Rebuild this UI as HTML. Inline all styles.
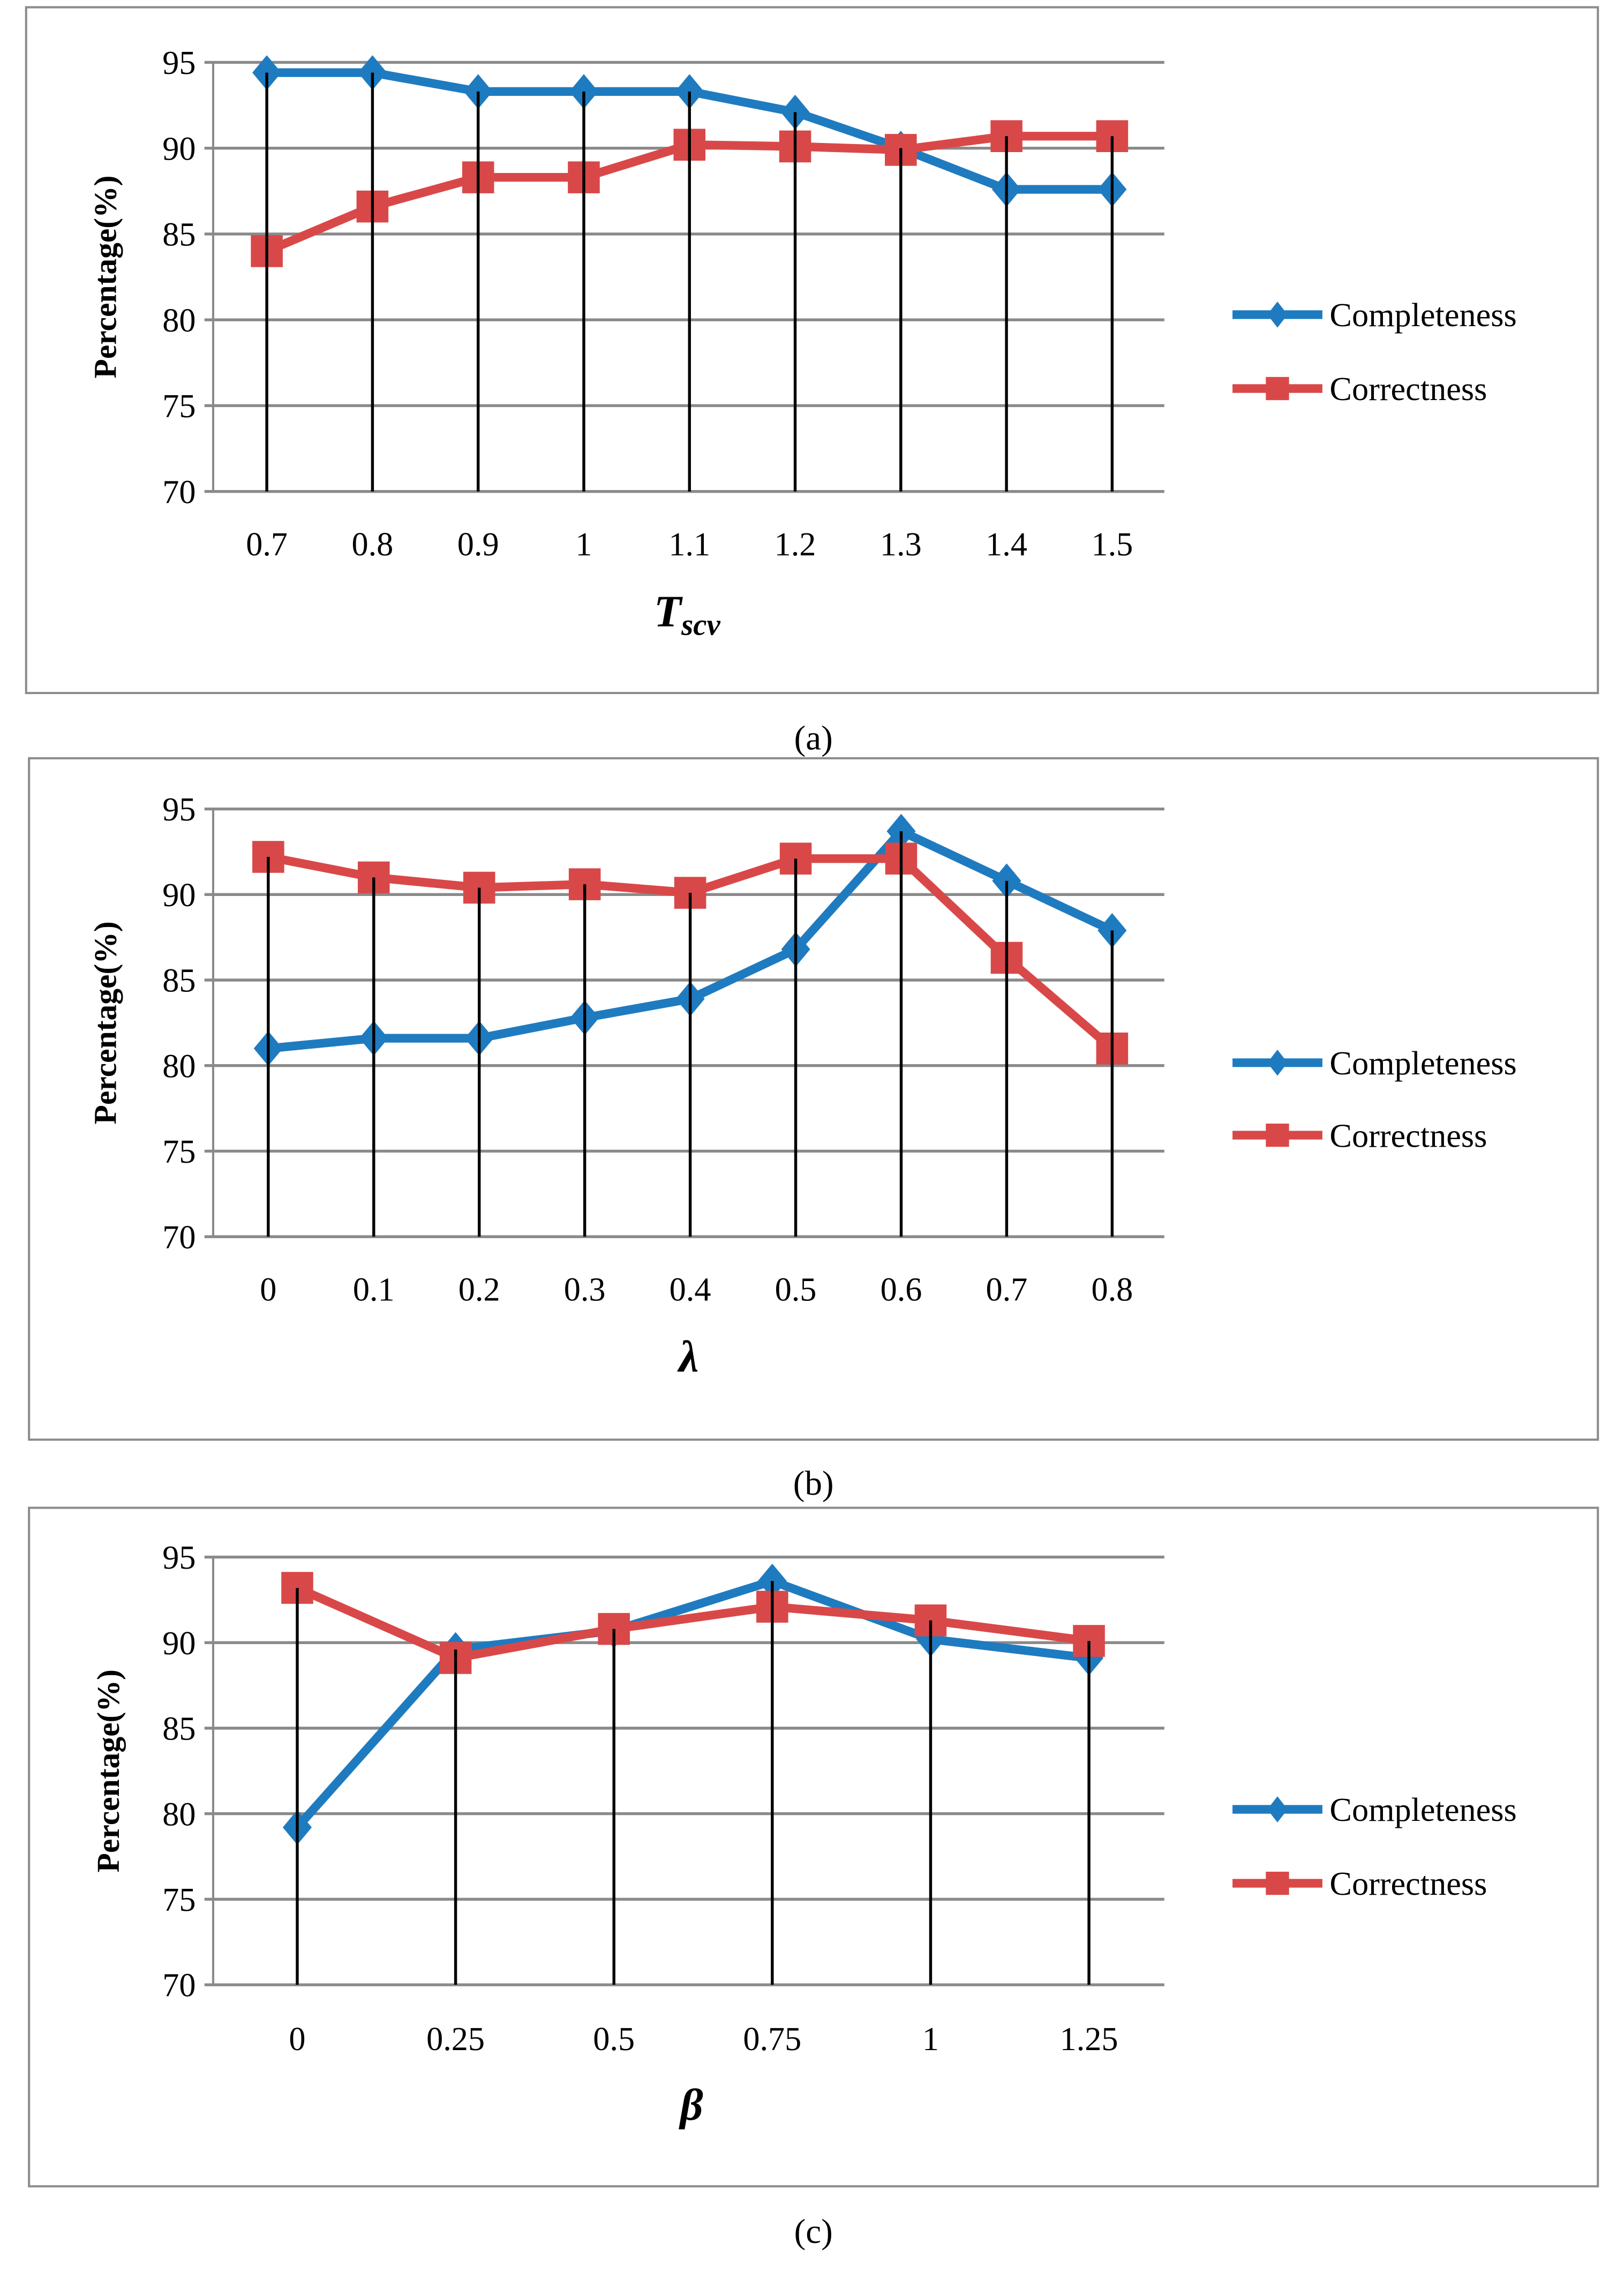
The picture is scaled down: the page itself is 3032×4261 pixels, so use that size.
<!DOCTYPE html>
<html><head><meta charset="utf-8"><style>
html,body{margin:0;padding:0;background:#fff;}
svg{display:block;}
text{font-family:"Liberation Serif",serif;fill:#000;}
</style></head><body>
<svg id="fig" width="3032" height="4261" viewBox="0 0 1120 1574" xmlns="http://www.w3.org/2000/svg"></svg>
<script>
const catsA = ["0.7","0.8","0.9","1","1.1","1.2","1.3","1.4","1.5"];
const compA = [94.4,94.4,93.3,93.3,93.3,92.1,90.0,87.6,87.6];
const corrA = [84.0,86.6,88.3,88.3,90.2,90.1,89.9,90.7,90.7];
const catsB = ["0","0.1","0.2","0.3","0.4","0.5","0.6","0.7","0.8"];
const compB = [81.0,81.6,81.6,82.8,83.9,86.8,93.7,90.8,87.9];
const corrB = [92.2,91.0,90.4,90.6,90.1,92.1,92.1,86.3,81.0];
const catsC = ["0","0.25","0.5","0.75","1","1.25"];
const compC = [79.2,89.6,90.7,93.6,90.2,89.1];
const corrC = [93.2,89.1,90.8,92.1,91.3,90.1];
const yTicks = [70,75,80,85,90,95];

const NS="http://www.w3.org/2000/svg";
const svg=document.getElementById('fig');
function mk(tag,attrs,parent){const e=document.createElementNS(NS,tag);for(const k in attrs)e.setAttribute(k,attrs[k]);(parent||svg).appendChild(e);return e;}

function panel(cfg){
  const g=mk('g',{});
  
  
  const fr=mk('rect',{x:cfg.fx,y:cfg.fy,width:cfg.fw,height:cfg.fh,fill:'none',stroke:'#8c8c8c','stroke-width':1.5},g);
  
  
  const y=v=>cfg.y70+(70-v)*(cfg.y70-cfg.y95)/25;
  const n=cfg.cats.length;
  const x=i=>cfg.x0+i*(cfg.x1-cfg.x0)/(n-1);
  yTicks.forEach(t=>{
    const l=mk('line',{x1:cfg.ax-6,x2:cfg.ar,y1:y(t),y2:y(t),stroke:'#8a8a8a','stroke-width':2},g);
    
    
    const tx=mk('text',{x:cfg.ax-12,y:y(t)+8,'font-size':23,'text-anchor':'end'},g);
    tx.textContent=t;
    
    
  });
  const ya=mk('line',{x1:cfg.ax,x2:cfg.ax,y1:y(95),y2:y(70),stroke:'#8a8a8a','stroke-width':1.5},g);
  
  
  cfg.cats.forEach((c,i)=>{
    const tx=mk('text',{x:x(i),y:cfg.ly,'font-size':23,'text-anchor':'middle'},g);
    tx.textContent=c;
    
    
  });
  const series=[[cfg.comp,'#1f7bc0','completeness'],[cfg.corr,'#d94848','correctness']];
  series.forEach(([d,col,nm])=>{
    const p=mk('polyline',{points:d.map((v,i)=>x(i)+','+y(v)).join(' '),fill:'none',stroke:col,'stroke-width':6,'stroke-linejoin':'round'},g);
    
    
  });
  cfg.comp.forEach((v,i)=>{
    const cx=x(i),cy=y(v);
    const m=mk('polygon',{points:`${cx},${cy-12} ${cx+10},${cy} ${cx},${cy+12} ${cx-10},${cy}`,fill:'#1f7bc0'},g);
    
    
  });
  cfg.corr.forEach((v,i)=>{
    const m=mk('rect',{x:x(i)-11,y:y(v)-11,width:22,height:22,fill:'#d94848'},g);
    
    
  });
  cfg.cats.forEach((c,i)=>{
    const top=Math.max(cfg.comp[i],cfg.corr[i]);
    const l=mk('line',{x1:x(i),x2:x(i),y1:y(top),y2:y(70),stroke:'#000','stroke-width':2},g);
    
    
  });
  const yt=mk('text',{x:0,y:0,'font-size':22,'font-weight':'bold','text-anchor':'middle',transform:`translate(${cfg.ytx},${(y(95)+y(70))/2}) rotate(-90)`},g);
  yt.textContent='Percentage(%)';
  
  
  const xt=mk('text',{x:cfg.xtx,y:cfg.xty,'font-size':31,'font-weight':'bold','font-style':'italic','text-anchor':'middle'},g);
  
  
  if(cfg.xsub){
    xt.textContent=cfg.xt;
    const s=mk('tspan',{'font-size':21,dy:6},xt);s.textContent=cfg.xsub;
    xt.setAttribute('text-anchor','start');xt.setAttribute('x',cfg.xtx-24);
  } else xt.textContent=cfg.xt;
  [['Completeness','#1f7bc0',cfg.lg1,'d'],['Correctness','#d94848',cfg.lg2,'s']].forEach(([t,col,ly,mt])=>{
    const lg=mk('g',{},g);
    
    
    mk('line',{x1:850,x2:912,y1:ly,y2:ly,stroke:col,'stroke-width':6},lg);
    if(mt==='d') mk('polygon',{points:`881,${ly-9} 888,${ly} 881,${ly+9} 874,${ly}`,fill:col},lg);
    else mk('rect',{x:873,y:ly-8,width:16,height:16,fill:col},lg);
    const tx=mk('text',{x:917,y:ly+8,'font-size':23},lg);tx.textContent=t;
  });
  const cap=mk('text',{x:561,y:cfg.capy,'font-size':24,'text-anchor':'middle'});
  cap.textContent=cfg.cap;
  
  
}

panel({id:'panel-a',fx:18,fy:5,fw:1084,fh:473,ax:147,ar:803,y95:43,y70:339,x0:184,x1:767,ly:383,cats:catsA,comp:compA,corr:corrA,ytx:80,xt:'T',xsub:'scv',xtx:475,xty:432,lg1:217,lg2:268,cap:'(a)',capy:517});
panel({id:'panel-b',fx:20,fy:523,fw:1082,fh:470,ax:147,ar:803,y95:558,y70:853,x0:185,x1:767,ly:897,cats:catsB,comp:compB,corr:corrB,ytx:80,xt:'λ',xtx:475,xty:946,lg1:733,lg2:783,cap:'(b)',capy:1031});
panel({id:'panel-c',fx:20,fy:1040,fw:1082,fh:468,ax:147,ar:803,y95:1074,y70:1369,x0:205,x1:751,ly:1414,cats:catsC,comp:compC,corr:corrC,ytx:82,xt:'β',xtx:477,xty:1462,lg1:1248,lg2:1299,cap:'(c)',capy:1547});
</script>
</body></html>
